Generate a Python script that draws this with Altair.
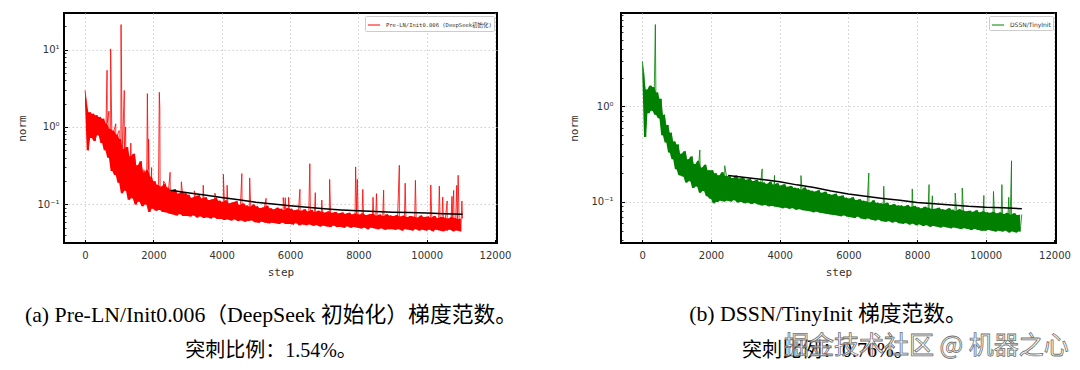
import altair as alt
import pandas as pd

# ---------------- data ----------------
band_steps = list(range(0, 11051, 50))  # sampling grid of the noisy band

red_band = [
    2.96, 2.0, 0.5, 1.55, 0.72, 1.48, 0.66, 1.42, 0.78, 1.35,
    0.62, 1.28, 0.5, 1.12, 0.4, 0.95, 0.27, 0.9, 0.24, 0.8,
    0.19, 0.7, 0.14, 0.52, 0.15, 0.55, 0.115, 0.42, 0.12, 0.45,
    0.1, 0.32, 0.108, 0.36, 0.095, 0.26, 0.1, 0.28, 0.08, 0.23,
    0.088, 0.2, 0.083, 0.18, 0.085, 0.17, 0.08, 0.185, 0.079, 0.165,
    0.076, 0.15, 0.074, 0.158, 0.072, 0.138, 0.075, 0.145, 0.071, 0.14,
    0.071, 0.133, 0.07, 0.122, 0.072, 0.128, 0.068, 0.131, 0.07, 0.12,
    0.067, 0.124, 0.068, 0.114, 0.066, 0.117, 0.068, 0.121, 0.065, 0.112,
    0.065, 0.108, 0.063, 0.113, 0.064, 0.104, 0.062, 0.107, 0.064, 0.11,
    0.061, 0.099, 0.062, 0.103, 0.06, 0.097, 0.061, 0.094, 0.062, 0.1,
    0.059, 0.095, 0.058, 0.09, 0.06, 0.092, 0.058, 0.096, 0.057, 0.089,
    0.058, 0.087, 0.057, 0.091, 0.056, 0.088, 0.058, 0.085, 0.056, 0.09,
    0.056, 0.088, 0.055, 0.084, 0.057, 0.086, 0.054, 0.083, 0.055, 0.087,
    0.054, 0.082, 0.055, 0.085, 0.053, 0.08, 0.054, 0.083, 0.052, 0.081,
    0.053, 0.079, 0.052, 0.082, 0.051, 0.078, 0.053, 0.08, 0.051, 0.077,
    0.051, 0.079, 0.05, 0.076, 0.052, 0.078, 0.05, 0.075, 0.051, 0.077,
    0.05, 0.074, 0.049, 0.077, 0.05, 0.073, 0.048, 0.075, 0.05, 0.076,
    0.049, 0.072, 0.048, 0.074, 0.049, 0.071, 0.047, 0.075, 0.048, 0.072,
    0.048, 0.071, 0.047, 0.073, 0.048, 0.07, 0.046, 0.072, 0.048, 0.069,
    0.047, 0.071, 0.046, 0.07, 0.048, 0.068, 0.046, 0.072, 0.047, 0.069,
    0.046, 0.07, 0.047, 0.068, 0.045, 0.071, 0.047, 0.067, 0.046, 0.069,
    0.045, 0.068, 0.046, 0.066, 0.047, 0.069, 0.045, 0.067, 0.046, 0.065,
    0.045, 0.066,
]

green_band = [
    2.97, 2.15, 0.48, 1.5, 0.85, 1.65, 0.9, 1.6, 0.82, 1.4,
    0.75, 1.2, 0.5, 0.82, 0.42, 0.64, 0.33, 0.53, 0.28, 0.43,
    0.22, 0.4, 0.19, 0.32, 0.185, 0.34, 0.16, 0.28, 0.165, 0.3,
    0.14, 0.25, 0.145, 0.27, 0.125, 0.23, 0.13, 0.245, 0.115, 0.215,
    0.108, 0.215, 0.097, 0.2, 0.1, 0.19, 0.103, 0.205, 0.101, 0.188,
    0.103, 0.186, 0.101, 0.178, 0.104, 0.189, 0.099, 0.176, 0.1, 0.181,
    0.097, 0.171, 0.098, 0.176, 0.095, 0.166, 0.097, 0.17, 0.094, 0.163,
    0.092, 0.16, 0.093, 0.155, 0.09, 0.163, 0.091, 0.152, 0.089, 0.157,
    0.088, 0.149, 0.086, 0.153, 0.087, 0.144, 0.085, 0.147, 0.086, 0.141,
    0.083, 0.139, 0.084, 0.135, 0.082, 0.142, 0.081, 0.134, 0.08, 0.131,
    0.078, 0.129, 0.079, 0.133, 0.077, 0.125, 0.076, 0.128, 0.075, 0.121,
    0.074, 0.119, 0.073, 0.122, 0.072, 0.115, 0.071, 0.117, 0.072, 0.111,
    0.07, 0.109, 0.069, 0.112, 0.068, 0.105, 0.07, 0.107, 0.067, 0.103,
    0.066, 0.102, 0.067, 0.099, 0.065, 0.104, 0.064, 0.098, 0.065, 0.097,
    0.063, 0.096, 0.062, 0.098, 0.063, 0.093, 0.061, 0.095, 0.062, 0.092,
    0.06, 0.092, 0.059, 0.09, 0.06, 0.093, 0.058, 0.089, 0.059, 0.091,
    0.057, 0.088, 0.058, 0.086, 0.056, 0.089, 0.057, 0.087, 0.055, 0.085,
    0.056, 0.085, 0.055, 0.087, 0.054, 0.084, 0.055, 0.083, 0.054, 0.086,
    0.053, 0.083, 0.054, 0.081, 0.053, 0.084, 0.052, 0.082, 0.053, 0.08,
    0.052, 0.081, 0.051, 0.079, 0.052, 0.082, 0.051, 0.078, 0.05, 0.08,
    0.05, 0.078, 0.051, 0.077, 0.05, 0.079, 0.049, 0.076, 0.05, 0.078,
    0.049, 0.075, 0.05, 0.077, 0.048, 0.074, 0.049, 0.076, 0.048, 0.073,
    0.049, 0.074,
]

red_spike_steps = [645, 700, 750, 900, 1000, 1055, 1100, 1150, 1190, 1340, 1420, 1480,
                   1560, 1640, 1720, 1825, 1860, 1950, 2175, 2190, 2300, 2490, 2820,
                   3200, 3460, 3800, 4050, 4160, 4590, 4820, 5300, 5800, 5860, 5960,
                   6290, 6580, 6740, 6930, 7160, 7920, 7970, 8130, 8430, 8530, 8740,
                   9200, 9370, 9670, 10120, 10370, 10470, 10600, 10740, 10790, 10880,
                   10920, 11030]
red_spike_values = [5.4, 1.6, 10.2, 1.1, 0.9, 21.0, 0.6, 2.96, 1.0, 0.62, 0.4, 0.33,
                    0.32, 0.3, 0.28, 2.7, 0.7, 0.3, 2.8, 1.7, 0.2, 0.26, 0.196,
                    0.15, 0.177, 0.14, 0.245, 0.177, 0.25, 0.22, 0.12, 0.123, 0.122, 0.124,
                    0.157, 0.336, 0.142, 0.114, 0.211, 0.305, 0.211, 0.157, 0.124, 0.138, 0.153,
                    0.32, 0.188, 0.205, 0.179, 0.173, 0.125, 0.111, 0.127, 0.152, 0.177,
                    0.238, 0.111]

green_spike_steps = [380, 1280, 1675, 2400, 3490, 3850, 4620, 6595, 7030, 7860, 8350,
                     8445, 9110, 9315, 9945, 10225, 10470, 10670, 10750]
green_spike_values = [7.2, 0.3, 0.35, 0.24, 0.222, 0.19, 0.189, 0.201, 0.146, 0.137, 0.152,
                      0.116, 0.124, 0.14, 0.117, 0.129, 0.152, 0.112, 0.27]

trend_steps = [2500, 3000, 3500, 4000, 4500, 5000, 5500, 6000, 6500, 7000, 7500,
               8000, 8500, 9000, 9500, 10000, 10500, 11050]
red_trend = [0.153, 0.142, 0.132, 0.123, 0.115, 0.107, 0.101, 0.096, 0.092, 0.088,
             0.085, 0.083, 0.081, 0.0795, 0.0785, 0.0775, 0.076, 0.075]
green_trend = [0.189, 0.18, 0.172, 0.163, 0.151, 0.142, 0.13, 0.121, 0.115, 0.109,
               0.104, 0.099, 0.096, 0.093, 0.09, 0.088, 0.087, 0.085]

x_ticks = [0, 2000, 4000, 6000, 8000, 10000, 12000]
y_major = [0.1, 1, 10]
y_minor = [0.04, 0.05, 0.06, 0.07, 0.08, 0.09, 0.2, 0.3, 0.4, 0.5, 0.6, 0.7, 0.8, 0.9,
           2, 3, 4, 5, 6, 7, 8, 9, 20]

red_label = "Pre-LN/Init0.006 (DeepSeek初始化)"
green_label = "DSSN/TinyInit"
cap_a1 = "(a) Pre-LN/Init0.006（DeepSeek 初始化）梯度范数。"
cap_a2 = "突刺比例：1.54%。"
cap_b1 = "(b) DSSN/TinyInit 梯度范数。"
cap_b2 = "突刺比例：0.76%。"
watermark = "掘金技术社区 @ 机器之心"

CAP_FONT = "Liberation Serif, Noto Sans CJK SC"
GRID = "#cfcfcf"


def series_df(band, sp_steps, sp_vals, label):
    a = pd.DataFrame({"step": band_steps, "norm": band})
    b = pd.DataFrame({"step": sp_steps, "norm": sp_vals})
    d = pd.concat([a, b]).sort_values("step").reset_index(drop=True)
    d["series"] = label
    return d


def band_df(band):
    # envelope of neighbouring read values, used to fill the dense noise core
    lo = [min(band[i], band[i + 1]) for i in range(len(band) - 1)]
    hi = [max(band[i], band[i + 1]) for i in range(len(band) - 1)]
    return pd.DataFrame({"step": band_steps[:-1], "lo": lo, "hi": hi})


def panel(band, sp_steps, sp_vals, trend, label, color, width, xdom, ydom,
          ylab_pad, title_pad, legend_font, legend_size, captions, extra=None):
    H = 230
    data = series_df(band, sp_steps, sp_vals, label)
    env = band_df(band)
    tr = pd.DataFrame({"step": trend_steps, "norm": trend})
    xs = alt.Scale(domain=xdom, nice=False, zero=False)
    ys = alt.Scale(type="log", domain=ydom, nice=False)
    lab = ("datum.value >= 9 ? '10¹' : datum.value >= 0.9 ? '10⁰' : '10⁻¹'")

    main = alt.Chart(data).mark_line(strokeWidth=0.8, clip=True).encode(
        x=alt.X("step:Q", scale=xs, axis=alt.Axis(
            values=x_ticks, format="d", grid=True, gridColor=GRID, gridDash=[1.5, 2.5],
            ticks=False, domain=False, labelPadding=7, labelFont="DejaVu Sans",
            labelFontSize=10, labelColor="#333", labelFlush=False, title="step",
            titleFont="DejaVu Sans Mono", titleFontSize=11, titleFontWeight="normal",
            titleColor="#333", titlePadding=6)),
        y=alt.Y("norm:Q", scale=ys, axis=alt.Axis(
            values=y_major, labelExpr=lab, grid=True, gridColor=GRID,
            gridDash=[1.5, 2.5], ticks=False, domain=False, labelPadding=ylab_pad,
            labelFont="DejaVu Sans", labelFontSize=10, labelColor="#333",
            minExtent=ylab_pad + 24, maxExtent=ylab_pad + 24, title="norm",
            titleFont="DejaVu Sans Mono", titleFontSize=11, titleFontWeight="normal",
            titleColor="#333", titlePadding=title_pad)),
        color=alt.Color("series:N", scale=alt.Scale(domain=[label], range=[color]),
                        legend=alt.Legend(
                            title=None, orient="top-right", offset=3, padding=2,
                            strokeColor="#cccccc", fillColor="white",
                            symbolType="stroke", symbolSize=150, symbolStrokeWidth=1,
                            labelFont=legend_font, labelFontSize=legend_size,
                            labelColor="#333", labelOffset=5, rowPadding=0,
                            cornerRadius=1)),
    )

    core = alt.Chart(env).mark_area(color=color, opacity=1, clip=True).encode(
        x=alt.X("step:Q", scale=xs, axis=None),
        y=alt.Y("lo:Q", scale=ys, axis=None),
        y2="hi:Q",
    )

    trend_line = alt.Chart(tr).mark_line(color="black", strokeWidth=1.5).encode(
        x=alt.X("step:Q", scale=xs, axis=alt.Axis(
            orient="top", offset=-H, values=x_ticks, labels=False, grid=False,
            domain=False, ticks=True, tickSize=3.5, tickColor="black", tickWidth=1,
            title=None)),
        y=alt.Y("norm:Q", scale=ys, axis=alt.Axis(
            orient="right", offset=-width, values=y_major, labels=False, grid=False,
            domain=False, ticks=True, tickSize=3.5, tickColor="black", tickWidth=1,
            title=None)),
    )

    minor = alt.Chart(tr).mark_point(opacity=0).encode(
        x=alt.X("step:Q", scale=xs, axis=None),
        y=alt.Y("norm:Q", scale=ys, axis=alt.Axis(
            orient="right", offset=-width, values=y_minor, labels=False, grid=False,
            domain=False, ticks=True, tickSize=2, tickColor="black", tickWidth=0.8,
            title=None)),
    )

    layers = [main, core, trend_line, minor]
    one = pd.DataFrame({"k": [0]})
    for (txt, x, y, align, fs) in captions:
        layers.append(alt.Chart(one).mark_text(
            font=CAP_FONT, fontSize=fs, align=align, baseline="middle",
            color="black").encode(x=alt.value(x), y=alt.value(y), text=alt.value(txt)))
    if extra is not None:
        layers.append(extra)
    return alt.layer(*layers).resolve_axis(x="independent", y="independent").properties(
        width=width, height=H)


left = panel(red_band, red_spike_steps, red_spike_values, red_trend, red_label,
             "#ff0000", 433, [-615, 12058], [0.0318, 29.6], 5, 7.5,
             "DejaVu Sans Mono, Noto Sans CJK SC", 5.5,
             [(cap_a1, 207, 302, "center", 21.8), (cap_a2, 207, 338, "center", 20)])

wm = alt.Chart(pd.DataFrame({"k": [0]})).mark_text(
    font="Noto Sans CJK SC", fontSize=25, align="left", baseline="middle",
    fill="white", fillOpacity=0.55, stroke="#707070", strokeWidth=0.8,
).encode(x=alt.value(163), y=alt.value(333), text=alt.value(watermark))

right = panel(green_band, green_spike_steps, green_spike_values, green_trend,
              green_label, "#008000", 435, [-620, 12045], [0.0372, 9.5], 8, 9.5,
              "DejaVu Sans", 6,
              [(cap_b1, 207, 301, "center", 21.8), (cap_b2, 121, 338, "left", 20)],
              extra=wm)

chart = alt.hconcat(left, right, spacing=124, bounds="flush").resolve_scale(
    color="independent").resolve_legend(color="independent").properties(
    padding={"left": 7, "top": 4, "right": 0, "bottom": 0},
    background="white",
).configure_view(stroke="black", strokeWidth=2)

chart.save("out.html", embed_options={"renderer": "svg", "actions": False})
